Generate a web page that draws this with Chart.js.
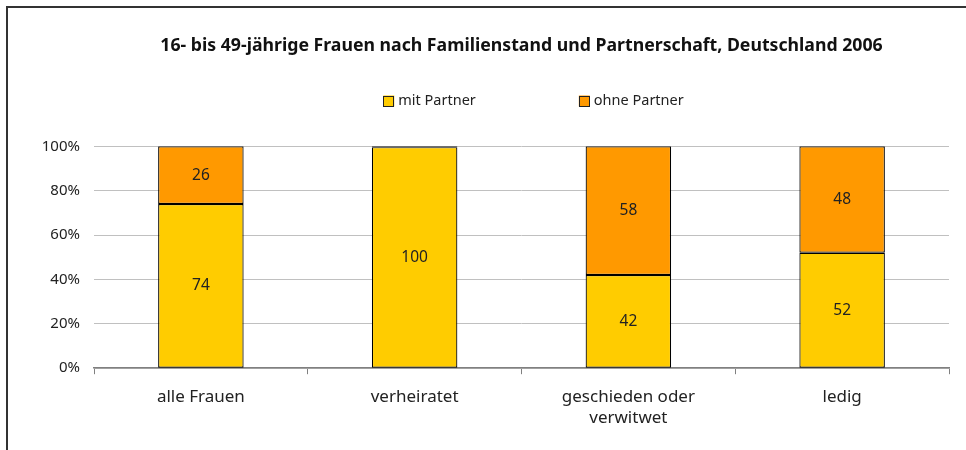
<!DOCTYPE html>
<html>
<head>
<meta charset="utf-8">
<script src="https://cdn.jsdelivr.net/npm/chart.js@4"></script>
<style>
    html, body { margin: 0; padding: 0; background: #fff; overflow: hidden; }
    #wrap { position: relative; width: 966px; height: 450px; }
    #frame {
        position: absolute; left: 6px; top: 6px; width: 1000px; height: 500px;
        border-left: 2px solid #333; border-top: 2px solid #333;
    }
    canvas { position: absolute; left: 0; top: 0; }
</style>
</head>
<body>
<div id="wrap">
    <div id="frame"></div>
    <canvas id="chart" width="966" height="450"></canvas>
</div>
<script>
const categories = ['alle Frauen', 'verheiratet', ['geschieden oder', 'verwitwet'], 'ledig'];
const mitPartner = [74, 99.6, 42, 52];
const ohnePartner = [26, 0.4, 58, 48];
const yTicks = [0, 20, 40, 60, 80, 100];

const fontFamily = "'Noto Sans', 'Open Sans', sans-serif";

// Values inside the bars
const barLabels = {
    id: 'barLabels',
    afterDatasetsDraw(chart) {
        const ctx = chart.ctx;
        ctx.save();
        ctx.font = '15.5px ' + fontFamily;
        ctx.fillStyle = '#222';
        ctx.textAlign = 'center';
        ctx.textBaseline = 'middle';
        chart.data.datasets.forEach((ds, i) => {
            chart.getDatasetMeta(i).data.forEach((bar, j) => {
                const v = ds.data[j];
                if (v < 1) return;
                ctx.fillText(Math.round(v), bar.x, (bar.y + bar.base) / 2);
            });
        });
        ctx.restore();
    }
};

// Legend with wide gap between the two items
const wideLegend = {
    id: 'wideLegend',
    afterDraw(chart) {
        const ctx = chart.ctx;
        const area = chart.chartArea;
        const box = 11, gap = 103, y = 101;
        ctx.save();
        ctx.font = '14.5px ' + fontFamily;
        ctx.textBaseline = 'middle';
        const items = chart.data.datasets.map(ds => ({
            text: ds.label,
            color: ds.backgroundColor,
            w: box + 4 + ctx.measureText(ds.label).width
        }));
        const total = items.reduce((s, it) => s + it.w, 0) + gap * (items.length - 1);
        let x = (area.left + area.right) / 2 + 12 - total / 2;
        items.forEach(it => {
            ctx.fillStyle = it.color;
            ctx.fillRect(x, y - box / 2, box, box);
            ctx.strokeStyle = '#222';
            ctx.lineWidth = 1;
            ctx.strokeRect(Math.round(x) + 0.5, Math.round(y - box / 2) + 0.5, box - 1, box - 1);
            ctx.fillStyle = '#222';
            ctx.fillText(it.text, x + box + 4, y);
            x += it.w + gap;
        });
        ctx.restore();
    }
};

new Chart(document.getElementById('chart').getContext('2d'), {
    type: 'bar',
    data: {
        labels: categories,
        datasets: [{
            label: 'mit Partner',
            data: mitPartner,
            backgroundColor: '#FFCC00',
            borderColor: '#000',
            borderWidth: 1.2,
            borderSkipped: false
        }, {
            label: 'ohne Partner',
            data: ohnePartner,
            backgroundColor: '#FF9900',
            borderColor: '#000',
            borderWidth: 1.2,
            borderSkipped: false
        }]
    },
    options: {
        responsive: false,
        animation: false,
        layout: { padding: { left: 0, right: 17, top: 0, bottom: 9 } },
        datasets: { bar: { categoryPercentage: 1, barPercentage: 0.4 } },
        plugins: {
            title: {
                display: true,
                text: '16- bis 49-jährige Frauen nach Familienstand und Partnerschaft, Deutschland 2006',
                fullSize: false,
                color: '#111',
                font: { family: fontFamily, size: 17.7, weight: 'bold' },
                padding: { top: 35, bottom: 90 }
            },
            legend: { display: false },
            tooltip: { enabled: false }
        },
        scales: {
            x: {
                stacked: true,
                grid: {
                    offset: true,
                    drawOnChartArea: false,
                    drawTicks: true,
                    tickLength: 6,
                    color: '#808080'
                },
                border: { color: '#808080', width: 1.5 },
                ticks: {
                    color: '#222',
                    font: { family: fontFamily, size: 17 },
                    padding: 13
                }
            },
            y: {
                stacked: true,
                min: 0,
                max: 100,
                afterFit: s => { s.width = 94; },
                afterBuildTicks: s => { s.ticks = yTicks.map(v => ({ value: v })); },
                grid: { color: '#c0c0c0', drawTicks: false },
                border: { display: false },
                ticks: {
                    color: '#222',
                    font: { family: fontFamily, size: 15 },
                    padding: 14,
                    callback: v => v + '%'
                }
            }
        }
    },
    plugins: [barLabels, wideLegend]
});
</script>
</body>
</html>
